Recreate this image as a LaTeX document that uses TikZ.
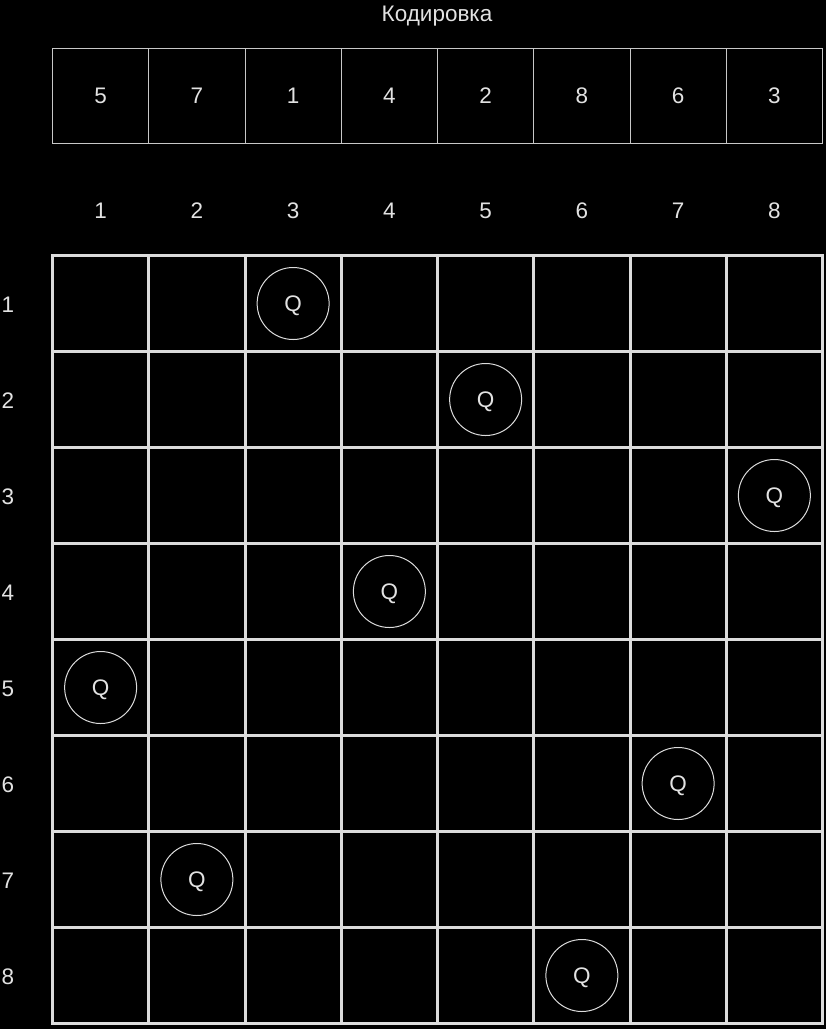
\documentclass[tikz,border=0pt]{standalone}
\usepackage{fontspec}
\setmainfont{Liberation Sans}
\usepackage{xcolor}
\usetikzlibrary{positioning}

\definecolor{boardline}{HTML}{DCDCDC}
\definecolor{codeline}{HTML}{C8C8C8}
\definecolor{labeltext}{HTML}{E2E2E2}

\begin{document}
\begin{tikzpicture}[x=1pt,y=-1pt,
    txt/.style={text=labeltext,font=\fontsize{22.5}{26}\selectfont,inner sep=0pt},
    codecell/.style={draw=codeline,line width=1pt,minimum width=96.25pt,minimum height=95.5pt,
        inner sep=0pt,outer sep=0pt,anchor=north west,txt},
    boardcell/.style={draw=boardline,line width=3pt,minimum width=96.25pt,minimum height=96pt,
        inner sep=0pt,outer sep=0pt,anchor=north west},
    queen/.style={circle,draw=boardline,line width=1pt,minimum size=72pt,inner sep=0pt,
        text depth=0pt,txt}]
    \fill[black] (0,0) rectangle (826,1029);
    \useasboundingbox (0,0) rectangle (826,1029);

    \node[txt,anchor=base] (title) at (437,21.5) {Кодировка};

    % encoding row
    \foreach \v [count=\i] in {5,7,1,4,2,8,6,3}
        \node[codecell] (c\i) at ({52.5+96.25*(\i-1)},48) {\v};

    % column numbers
    \foreach \i in {1,...,8}
        \node[txt] (col\i) at ({52.5+96.25*(\i-0.5)},211) {\i};

    % board
    \foreach \r in {1,...,8}{
        \node[txt] (row\r) at (8,{256.5+96*(\r-0.5)}) {\r};
        \foreach \i in {1,...,8}
            \node[boardcell] (b\r-\i) at ({52.5+96.25*(\i-1)},{255.5+96*(\r-1)}) {};
    }

    % queens
    \foreach \i/\r in {1/5,2/7,3/1,4/4,5/2,6/8,7/6,8/3}
        \node[queen] (q\i) at (b\r-\i.center) {Q};
\end{tikzpicture}
\end{document}
